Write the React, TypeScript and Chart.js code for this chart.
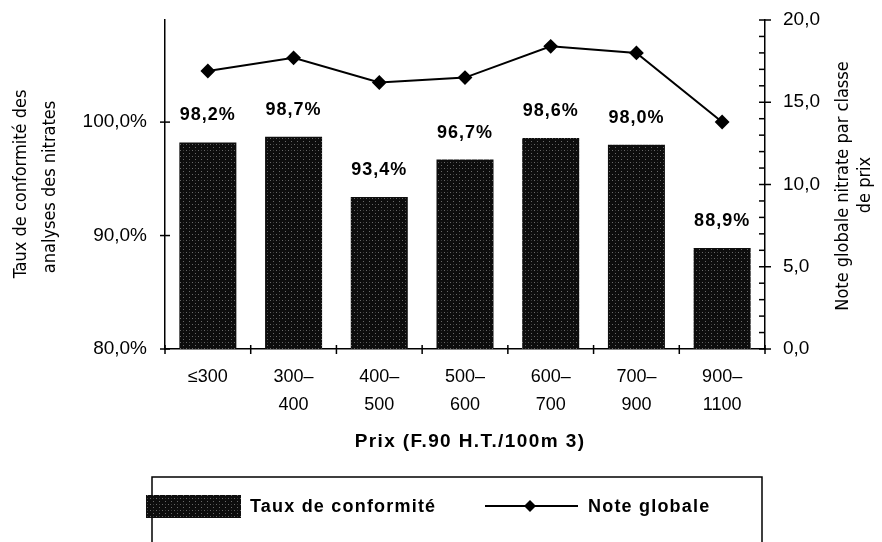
import React, { useEffect, useRef } from "react";
import { Chart, registerables } from "chart.js";

Chart.register(...registerables);

const categories: string[][] = [
  ["≤300"],
  ["300–", "400"],
  ["400–", "500"],
  ["500–", "600"],
  ["600–", "700"],
  ["700–", "900"],
  ["900–", "1100"],
];
const tauxConformite: number[] = [98.2, 98.7, 93.4, 96.7, 98.6, 98.0, 88.9];
const noteGlobale: number[] = [16.9, 17.7, 16.2, 16.5, 18.4, 18.0, 13.8];
const leftTicks: number[] = [80, 90, 100];
const rightMajorTicks: number[] = [0, 5, 10, 15, 20];

const seriesNames = ["Taux de conformité", "Note globale"];
const xTitle = "Prix (F.90 H.T./100m 3)";
const leftTitle = ["Taux de conformité des", "analyses des nitrates"];
const rightTitle = ["Note globale nitrate par classe", "de prix"];

const SANS = '"Liberation Sans", Arial, Helvetica, sans-serif';
const NARROW = '"Liberation Sans Narrow", "DejaVu Sans Condensed", "Roboto Condensed", "Liberation Sans", sans-serif';

function fmt(v: number, d = 1) {
  return v.toFixed(d).replace(".", ",");
}

function makePattern(): CanvasPattern | string {
  const c = document.createElement("canvas");
  c.width = 6;
  c.height = 6;
  const g = c.getContext("2d");
  if (!g) return "#111";
  g.fillStyle = "#0d0d0d";
  g.fillRect(0, 0, 6, 6);
  g.fillStyle = "#6a6a6a";
  g.fillRect(0, 0, 1, 1);
  g.fillRect(3, 3, 1, 1);
  g.fillStyle = "#3a3a3a";
  g.fillRect(3, 0, 1, 1);
  const p = g.createPattern(c, "repeat");
  return p || "#111";
}

function drawDiamond(ctx: CanvasRenderingContext2D, x: number, y: number, r: number) {
  ctx.beginPath();
  ctx.moveTo(x, y - r);
  ctx.lineTo(x + r, y);
  ctx.lineTo(x, y + r);
  ctx.lineTo(x - r, y);
  ctx.closePath();
  ctx.fill();
}

const overlayPlugin = {
  id: "overlay",
  afterDraw(chart: any) {
    const ctx: CanvasRenderingContext2D = chart.ctx;
    const area = chart.chartArea;
    const yL = chart.scales.y;
    const yR = chart.scales.y2;
    const x = chart.scales.x;
    ctx.save();
    ctx.strokeStyle = "#000";
    ctx.fillStyle = "#000";
    ctx.lineWidth = 1.5;

    // left ticks (crossing)
    leftTicks.forEach((v) => {
      const py = yL.getPixelForValue(v);
      ctx.beginPath();
      ctx.moveTo(area.left - 5, py);
      ctx.lineTo(area.left + 5, py);
      ctx.stroke();
    });
    // right ticks: majors crossing, minors inside
    for (let v = 0; v <= 20; v++) {
      const py = yR.getPixelForValue(v);
      const major = rightMajorTicks.includes(v);
      ctx.beginPath();
      ctx.moveTo(area.right - 6, py);
      ctx.lineTo(area.right + (major ? 6 : 0), py);
      ctx.stroke();
    }
    // x ticks at category boundaries
    const n = categories.length;
    for (let i = 0; i <= n; i++) {
      const px = x.getPixelForValue(i - 0.5);
      ctx.beginPath();
      ctx.moveTo(px, area.bottom - 4);
      ctx.lineTo(px, area.bottom + 5);
      ctx.stroke();
    }

    // data labels
    const meta = chart.getDatasetMeta(0);
    ctx.font = `bold 18px ${SANS}`;
    (ctx as any).letterSpacing = "1px";
    ctx.textAlign = "center";
    ctx.textBaseline = "middle";
    meta.data.forEach((bar: any, i: number) => {
      ctx.fillText(fmt(tauxConformite[i]) + "%", bar.x, bar.y - 27);
    });

    // x title
    ctx.font = `bold 19px ${SANS}`;
    (ctx as any).letterSpacing = "1.4px";
    ctx.fillText(xTitle, 470, 442);

    // left title
    (ctx as any).letterSpacing = "0px";
    ctx.font = `18px ${NARROW}`;
    ctx.save();
    ctx.translate(21, 184);
    ctx.rotate(-Math.PI / 2);
    ctx.fillText(leftTitle[0], 0, 0);
    ctx.restore();
    ctx.save();
    ctx.translate(50, 187);
    ctx.rotate(-Math.PI / 2);
    ctx.fillText(leftTitle[1], 0, 0);
    ctx.restore();

    // right title
    ctx.save();
    ctx.translate(843, 186);
    ctx.rotate(-Math.PI / 2);
    ctx.fillText(rightTitle[0], 0, 0);
    ctx.restore();
    ctx.save();
    ctx.translate(865, 185);
    ctx.rotate(-Math.PI / 2);
    ctx.fillText(rightTitle[1], 0, 0);
    ctx.restore();

    // legend box
    ctx.lineWidth = 1.5;
    ctx.beginPath();
    ctx.moveTo(152, 542);
    ctx.lineTo(152, 477);
    ctx.lineTo(762, 477);
    ctx.lineTo(762, 542);
    ctx.stroke();

    const pat = chart.data.datasets[0].backgroundColor;
    ctx.fillStyle = pat;
    ctx.fillRect(146, 495, 95, 23);
    ctx.fillStyle = "#000";
    ctx.font = `bold 18px ${SANS}`;
    (ctx as any).letterSpacing = "1.2px";
    ctx.textAlign = "left";
    ctx.fillText(seriesNames[0], 250, 507);

    ctx.lineWidth = 2;
    ctx.beginPath();
    ctx.moveTo(485, 506);
    ctx.lineTo(578, 506);
    ctx.stroke();
    drawDiamond(ctx, 530, 506, 6);
    ctx.fillText(seriesNames[1], 588, 507);

    ctx.restore();
  },
};

export default function App() {
  const ref = useRef<HTMLCanvasElement | null>(null);

  useEffect(() => {
    document.body.style.margin = "0";
    const canvas = ref.current;
    if (!canvas) return;
    const pattern = makePattern();
    const chart = new Chart(canvas, {
      type: "bar",
      data: {
        labels: categories,
        datasets: [
          {
            type: "bar",
            label: seriesNames[0],
            data: tauxConformite,
            backgroundColor: pattern as any,
            borderWidth: 0,
            yAxisID: "y",
            barPercentage: 0.665,
            categoryPercentage: 1,
            order: 2,
          },
          {
            type: "line",
            label: seriesNames[1],
            data: noteGlobale,
            borderColor: "#000",
            backgroundColor: "#000",
            borderWidth: 2,
            pointStyle: "rectRot",
            pointRadius: 6,
            pointBackgroundColor: "#000",
            pointBorderColor: "#000",
            yAxisID: "y2",
            tension: 0,
            order: 1,
          } as any,
        ],
      },
      options: {
        animation: false,
        responsive: false,
        maintainAspectRatio: false,
        layout: { padding: { top: 20, left: 0, right: 0, bottom: 0 } },
        plugins: {
          legend: { display: false },
          tooltip: { enabled: false },
        },
        scales: {
          x: {
            type: "category",
            offset: true,
            grid: { display: false, drawTicks: false },
            border: { display: true, color: "#000", width: 1.5 },
            ticks: {
              color: "#000",
              font: { family: SANS, size: 18, lineHeight: 1.55 },
              padding: 14,
              maxRotation: 0,
              autoSkip: false,
            },
            afterFit: (s: any) => {
              s.height = 542 - 349;
              s.paddingLeft = 0;
              s.paddingRight = 0;
            },
          },
          y: {
            type: "linear",
            position: "left",
            min: 80,
            max: 109,
            grid: { display: false, drawTicks: false },
            border: { display: true, color: "#000", width: 1.5 },
            ticks: {
              stepSize: 10,
              color: "#000",
              font: { family: SANS, size: 19 },
              padding: 18,
              callback: (v: any) => fmt(Number(v)) + "%",
            },
            afterBuildTicks: (s: any) => {
              s.ticks = s.ticks.filter((t: any) => leftTicks.includes(t.value));
            },
            afterFit: (s: any) => {
              s.width = 165;
              s.paddingTop = 0;
              s.paddingBottom = 0;
            },
          },
          y2: {
            type: "linear",
            position: "right",
            min: 0,
            max: 20,
            grid: { display: false, drawTicks: false },
            border: { display: true, color: "#000", width: 1.5 },
            ticks: {
              stepSize: 5,
              color: "#000",
              font: { family: SANS, size: 19 },
              padding: 18,
              callback: (v: any) => fmt(Number(v)),
            },
            afterFit: (s: any) => {
              s.width = 882 - 765;
              s.paddingTop = 0;
              s.paddingBottom = 0;
            },
          },
        },
      },
      plugins: [overlayPlugin],
    });
    return () => chart.destroy();
  }, []);

  return (
    <div style={{ position: "fixed", left: 0, top: 0, width: 882, height: 542, background: "#fff" }}>
      <canvas ref={ref} width={882} height={542} style={{ width: 882, height: 542, display: "block" }} />
    </div>
  );
}
